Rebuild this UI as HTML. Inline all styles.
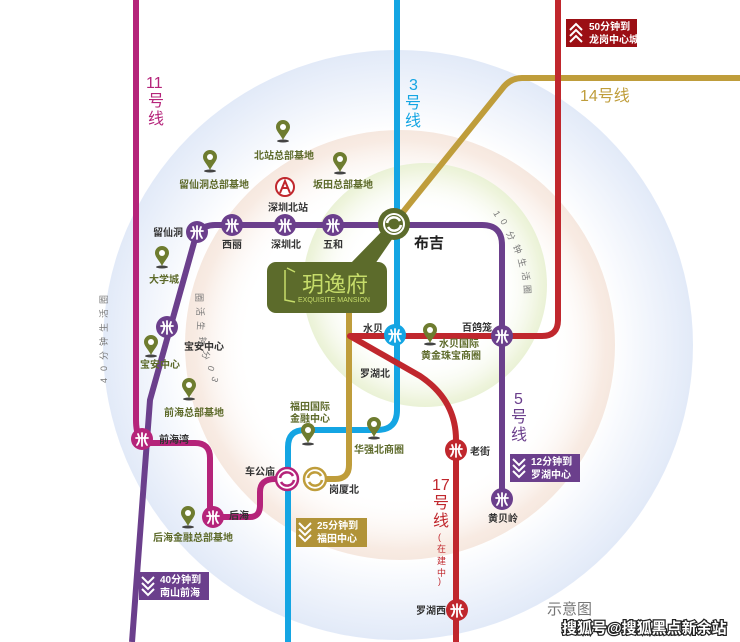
<!DOCTYPE html>
<html><head><meta charset="utf-8"><style>
html,body{margin:0;padding:0;background:#fff;}
svg{display:block;font-family:"Liberation Sans","Noto Sans CJK SC",sans-serif;}
.l{font-size:10px;fill:#333;font-weight:bold;}
.p{font-size:10px;fill:#5d6a2a;font-weight:bold;}
.r{font-size:9px;fill:#777;}
.b{font-size:10px;fill:#fff;font-weight:bold;}
</style></head><body>
<svg width="740" height="642" viewBox="0 0 740 642" xmlns="http://www.w3.org/2000/svg">
<defs>
<radialGradient id="g1"><stop offset="0.72" stop-color="#fff"/><stop offset="0.93" stop-color="#e9effa"/><stop offset="1" stop-color="#e2eaf8"/></radialGradient>
<radialGradient id="g2"><stop offset="0.7" stop-color="#fff" stop-opacity="0"/><stop offset="0.95" stop-color="#f8ebe3"/><stop offset="1" stop-color="#f6e8df"/></radialGradient>
<radialGradient id="g3"><stop offset="0.6" stop-color="#fff" stop-opacity="0"/><stop offset="0.95" stop-color="#eef4dc"/><stop offset="1" stop-color="#eaf2d6"/></radialGradient>
<g id="m"><path d="M-6 -1 H6 M0 -6 V7 M-4 -5 Q-1 1 -5 6 M4 -5 Q1 1 5 6" stroke="#fff" stroke-width="1.8" fill="none" stroke-linecap="round"/></g>
<g id="pin"><path d="M0 0 C-3 -6 -7 -9 -7 -13 A7 7 0 1 1 7 -13 C7 -9 3 -6 0 0Z" fill="#6e7c2f"/><circle cx="0" cy="-13" r="3" fill="#fff"/><ellipse cx="0" cy="1" rx="6" ry="1.5" fill="#444"/></g>
<g id="chev"><path d="M0 0 L6 6 L12 0 M0 6 L6 12 L12 6 M0 12 L6 18 L12 12" stroke="#fff" stroke-width="2" fill="none"/></g>
<g id="xch"><path d="M-7 -1 A7 7 0 0 1 6 -3 M7 1 A7 7 0 0 1 -6 3" stroke-width="2.6" fill="none"/></g>
</defs>
<circle cx="398" cy="345" r="295" fill="url(#g1)"/>
<circle cx="400" cy="345" r="215" fill="url(#g2)"/>
<circle cx="425" cy="285" r="122" fill="url(#g3)"/>

<!-- lines -->
<g fill="none" stroke-width="6" stroke-linejoin="round">
<path d="M136 0 V420 Q136 443 150 443 H195 Q210 443 210 458 V517 H250 Q260 517 260 505 V492 Q260 479 275 479 H287" stroke="#b5247a"/>
<path d="M502 499 V245 Q502 225 482 225 H215 Q205 225 197 232 L150 400 L132 642" stroke="#6b3f8c"/>
<path d="M397 0 V410 Q397 430 377 430 H305 Q288 430 288 447 V642" stroke="#14a5e3"/>
<path d="M740 78 H522 Q510 78 502 89 L395 222 M315 479 H335 Q349 479 349 465 V300" stroke="#bf9d3b"/>
<path d="M558 0 V320 Q558 336 542 336 H350 L420 376 Q456 400 456 440 V642" stroke="#c0272d"/>
</g>

<!-- stations -->
<g>
<circle cx="197" cy="232" r="11" fill="#6b3f8c"/><use href="#m" x="197" y="232"/>
<circle cx="232" cy="225" r="11" fill="#6b3f8c"/><use href="#m" x="232" y="225"/>
<circle cx="285" cy="225" r="11" fill="#6b3f8c"/><use href="#m" x="285" y="225"/>
<circle cx="333" cy="225" r="11" fill="#6b3f8c"/><use href="#m" x="333" y="225"/>
<circle cx="167" cy="327" r="11" fill="#6b3f8c"/><use href="#m" x="167" y="327"/>
<circle cx="502" cy="336" r="11" fill="#6b3f8c"/><use href="#m" x="502" y="336"/>
<circle cx="502" cy="499" r="11" fill="#6b3f8c"/><use href="#m" x="502" y="499"/>
<circle cx="142" cy="439" r="11" fill="#b5247a"/><use href="#m" x="142" y="439"/>
<circle cx="213" cy="517" r="11" fill="#b5247a"/><use href="#m" x="213" y="517"/>
<circle cx="395" cy="335" r="11" fill="#14a5e3"/><use href="#m" x="395" y="335"/>
<circle cx="456" cy="450" r="11" fill="#c0272d"/><use href="#m" x="456" y="450"/>
<circle cx="457" cy="610" r="11" fill="#c0272d"/><use href="#m" x="457" y="610"/>
<circle cx="287" cy="479" r="11" fill="#fff" stroke="#b5247a" stroke-width="2.5"/><use href="#xch" x="287" y="479" stroke="#b5247a"/>
<circle cx="315" cy="479" r="11" fill="#fff" stroke="#bf9d3b" stroke-width="2.5"/><use href="#xch" x="315" y="479" stroke="#bf9d3b"/>
</g>
<!-- logo box -->
<path d="M350 264 L385 228 L395 235 L375 264Z" fill="#5c6b2b"/>
<rect x="267" y="262" width="120" height="51" rx="9" fill="#5c6b2b"/>
<circle cx="394" cy="224" r="16" fill="#5c6b2b"/><circle cx="394" cy="224" r="11" fill="#fff"/><circle cx="394" cy="224" r="9" fill="#5c6b2b"/>
<use href="#xch" x="394" y="224" stroke="#fff"/>
<path d="M285 270 V300 L295 302 M287 268 L295 272" stroke="#c6dc6a" stroke-width="1.5" fill="none"/>
<text x="302" y="292" font-size="22" fill="#c6dc6a">玥逸府</text>
<text x="298" y="302" font-size="7" fill="#c6dc6a">EXQUISITE MANSION</text>

<!-- pins -->
<use href="#pin" x="283" y="140"/><use href="#pin" x="210" y="170"/><use href="#pin" x="340" y="172"/>
<use href="#pin" x="162" y="266"/><use href="#pin" x="151" y="355"/><use href="#pin" x="189" y="398"/>
<use href="#pin" x="308" y="443"/><use href="#pin" x="374" y="437"/><use href="#pin" x="430" y="343"/>
<use href="#pin" x="188" y="526"/>
<circle cx="285" cy="187" r="9" fill="#fff" stroke="#c0272d" stroke-width="2"/><path d="M280 193 L285 181 L290 193 M282 188 H288" stroke="#c0272d" stroke-width="2" fill="none"/>

<!-- labels -->
<g class="l">
<text x="153" y="236">留仙洞</text><text x="222" y="248">西丽</text><text x="271" y="248">深圳北</text><text x="323" y="248">五和</text>
<text x="414" y="248" font-size="15" fill="#222">布吉</text>
<text x="363" y="332">水贝</text><text x="462" y="331">百鸽笼</text><text x="360" y="377">罗湖北</text>
<text x="470" y="455">老街</text><text x="488" y="522">黄贝岭</text><text x="416" y="614">罗湖西</text>
<text x="159" y="443">前海湾</text><text x="229" y="519">后海</text><text x="245" y="475">车公庙</text><text x="329" y="493">岗厦北</text>
<text x="184" y="350">宝安中心</text>
</g>
<g class="p">
<text x="254" y="159">北站总部基地</text><text x="179" y="188">留仙洞总部基地</text><text x="313" y="188">坂田总部基地</text>
<text x="268" y="211" fill="#333">深圳北站</text>
<text x="149" y="283">大学城</text><text x="140" y="368">宝安中心</text><text x="164" y="416">前海总部基地</text>
<text x="290" y="410">福田国际</text><text x="290" y="422">金融中心</text><text x="354" y="453">华强北商圈</text>
<text x="439" y="347">水贝国际</text><text x="421" y="359">黄金珠宝商圈</text><text x="153" y="541">后海金融总部基地</text>
</g>
<g font-size="16">
<text x="146" y="88" fill="#b5247a">11</text><text x="148" y="106" fill="#b5247a">号</text><text x="148" y="124" fill="#b5247a">线</text>
<text x="409" y="90" fill="#14a5e3">3</text><text x="405" y="108" fill="#14a5e3">号</text><text x="405" y="126" fill="#14a5e3">线</text>
<text x="580" y="101" fill="#bf9d3b">14号线</text>
<text x="514" y="404" fill="#6b3f8c">5</text><text x="511" y="422" fill="#6b3f8c">号</text><text x="511" y="440" fill="#6b3f8c">线</text>
<text x="432" y="490" fill="#c0272d">17</text><text x="433" y="508" fill="#c0272d">号</text><text x="433" y="526" fill="#c0272d">线</text>
</g>
<g font-size="9" fill="#c0272d"><text x="438" y="540">(</text><text x="437" y="552">在</text><text x="437" y="564">建</text><text x="437" y="576">中</text><text x="438" y="584">)</text></g>
<!-- ring text -->
<g class="r">
<text transform="translate(493,213) rotate(60)">1</text><text transform="translate(500,221) rotate(62)">0</text>
<text transform="translate(506,233) rotate(65)">分</text><text transform="translate(513,246) rotate(70)">钟</text>
<text transform="translate(518,259) rotate(76)">生</text><text transform="translate(522,272) rotate(82)">活</text>
<text transform="translate(524,285) rotate(88)">圈</text>
<text transform="translate(196,293) rotate(90)">圈</text><text transform="translate(197,307) rotate(90)">活</text>
<text transform="translate(198,321) rotate(95)">生</text><text transform="translate(200,336) rotate(100)">钟</text>
<text transform="translate(204,350) rotate(105)">分</text><text transform="translate(209,365) rotate(110)">0</text><text transform="translate(213,376) rotate(112)">3</text>
<text transform="translate(107,304) rotate(-90)">圈</text><text transform="translate(107,318) rotate(-90)">活</text>
<text transform="translate(107,332) rotate(-90)">生</text><text transform="translate(107,346) rotate(-90)">钟</text>
<text transform="translate(107,360) rotate(-90)">分</text><text transform="translate(107,371) rotate(-90)">0</text><text transform="translate(107,383) rotate(-90)">4</text>
</g>
<!-- info boxes -->
<rect x="566" y="19" width="71" height="28" fill="#9b0f14"/><use href="#chev" x="570" y="24" transform="rotate(180 576 33)"/>
<text class="b" x="589" y="30">50分钟到</text><text class="b" x="589" y="43">龙岗中心城</text>
<rect x="510" y="454" width="70" height="28" fill="#6b3f8c"/><use href="#chev" x="513" y="459"/>
<text class="b" x="531" y="465">12分钟到</text><text class="b" x="531" y="478">罗湖中心</text>
<rect x="296" y="518" width="71" height="29" fill="#b19338"/><use href="#chev" x="299" y="523"/>
<text class="b" x="317" y="529">25分钟到</text><text class="b" x="317" y="542">福田中心</text>
<rect x="139" y="572" width="70" height="28" fill="#6b3f8c"/><use href="#chev" x="142" y="577"/>
<text class="b" x="160" y="583">40分钟到</text><text class="b" x="160" y="596">南山前海</text>
<text x="547" y="614" font-size="15" fill="#777">示意图</text>
<text x="562" y="633" font-size="15" fill="#fff" stroke="#222" stroke-width="2.5" paint-order="stroke" font-weight="bold">搜狐号@搜狐黑点新余站</text>
</svg>
</body></html>
